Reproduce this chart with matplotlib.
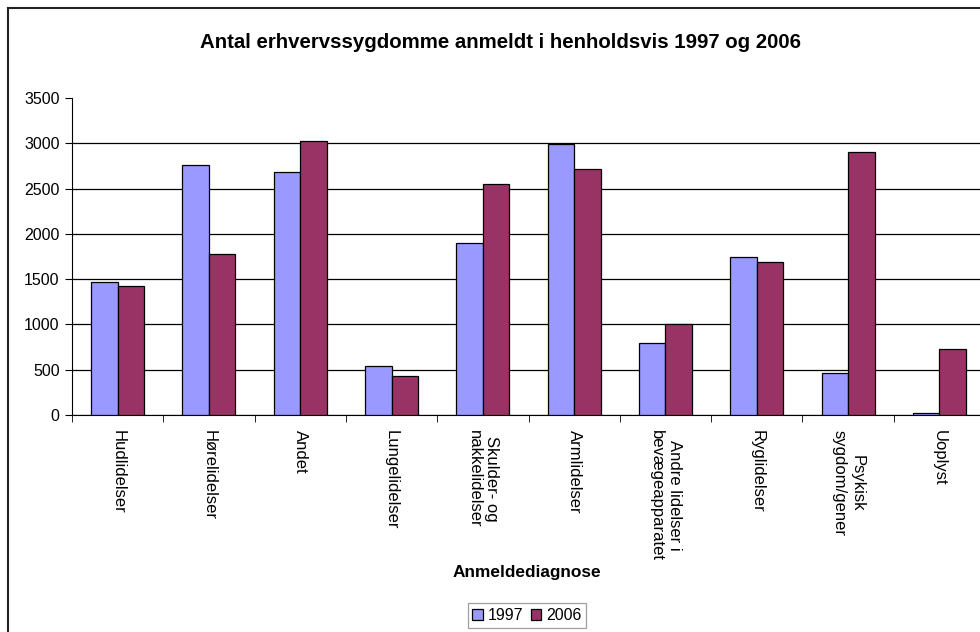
import matplotlib
matplotlib.use("Agg")
from matplotlib import pyplot as plt
from matplotlib.lines import Line2D
import numpy as np

plt.rcParams["font.family"] = ["Liberation Sans", "DejaVu Sans"]

categories = [
    "Hudlidelser",
    "Hørelidelser",
    "Andet",
    "Lungelidelser",
    "Skulder- og\nnakkelidelser",
    "Armlidelser",
    "Andre lidelser i\nbevægeapparatet",
    "Ryglidelser",
    "Psykisk\nsygdom/gener",
    "Uoplyst",
]
values_1997 = [1470, 2760, 2680, 540, 1900, 2990, 790, 1750, 460, 18]
values_2006 = [1420, 1780, 3030, 430, 2550, 2720, 1000, 1690, 2900, 730]
years = ["1997", "2006"]
colors = ["#9999FF", "#993366"]

fig = plt.figure(figsize=(9.8, 6.32), dpi=100)
ax = fig.add_axes([72 / 980, 1 - 415 / 632, 913 / 980, 317 / 632])

x = np.arange(len(categories))
w = 0.29
ax.bar(x - w / 2, values_1997, w, color=colors[0], edgecolor="black", linewidth=0.9, label=years[0], zorder=3)
ax.bar(x + w / 2, values_2006, w, color=colors[1], edgecolor="black", linewidth=0.9, label=years[1], zorder=3)

ax.set_xlim(-0.5, len(categories) - 0.5)
ax.set_ylim(0, 3500)
ax.set_yticks(range(0, 3501, 500))
ax.yaxis.grid(True, color="black", linewidth=0.9, zorder=0)
ax.yaxis.get_gridlines()[-1].set_visible(False)  # no line at the top
ax.set_axisbelow(True)

ax.set_xticks(x)
ax.set_xticklabels(categories, rotation=270, va="top", ha="center",
                   multialignment="center", fontsize=12)
ax.set_xticks(np.arange(-0.5, len(categories), 1), minor=True)
ax.tick_params(axis="x", which="major", length=0, pad=11)
ax.tick_params(axis="x", which="minor", length=5, direction="out", color="black")
ax.tick_params(axis="y", length=5, direction="out", color="black", labelsize=11.5, pad=4)

for side in ["top", "right"]:
    ax.spines[side].set_visible(False)
ax.spines["left"].set_color("black")
ax.spines["bottom"].set_color("black")

fig.text(500 / 980, 1 - 42 / 632, "Antal erhvervssygdomme anmeldt i henholdsvis 1997 og 2006",
         ha="center", va="center", fontsize=14.7, fontweight="bold")
fig.text(527 / 980, 1 - 572 / 632, "Anmeldediagnose", ha="center", va="center",
         fontsize=12.4, fontweight="bold")

leg = fig.legend(loc="upper center", bbox_to_anchor=(527 / 980, 1 - 603 / 632), ncol=2,
                 fontsize=11.5, frameon=True, fancybox=False, handlelength=0.65,
                 handleheight=0.65, handletextpad=0.3, columnspacing=0.5,
                 borderpad=0.3, borderaxespad=0)
leg.get_frame().set_edgecolor("#888888")
leg.get_frame().set_linewidth(0.9)

# chart border (cropped on right and bottom)
fig.add_artist(Line2D([8 / 980, 8 / 980], [0, 1 - 8 / 632], color="#222222", linewidth=1.5))
fig.add_artist(Line2D([8 / 980, 1], [1 - 8 / 632, 1 - 8 / 632], color="#222222", linewidth=1.5))

fig.savefig("out.png", dpi=100)
